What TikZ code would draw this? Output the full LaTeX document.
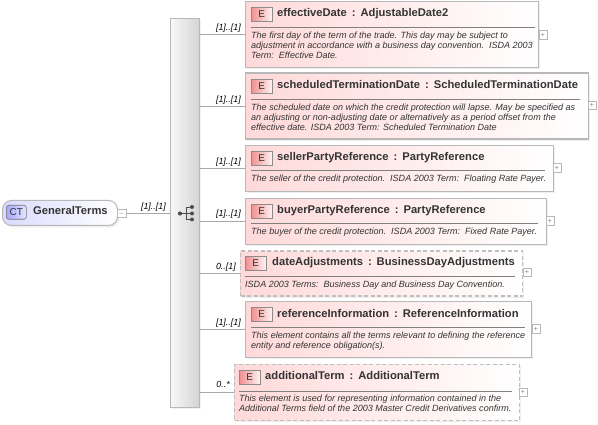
\documentclass[tikz,border=0pt]{standalone}
\usepackage{fontspec}
\setmainfont{Liberation Sans}
\usetikzlibrary{shadows}
\definecolor{edge}{HTML}{B8B8B8}
\definecolor{wire}{HTML}{A8A8A8}
\definecolor{pinkfill}{HTML}{FFD9D9}
\definecolor{ebox}{HTML}{F09090}
\definecolor{ctblue}{HTML}{DADAFF}
\definecolor{ink}{HTML}{333333}
\tikzset{
  elembox/.style={draw=edge, line width=1.2pt, left color=pinkfill, right color=white, anchor=north west, inner sep=0pt, drop shadow={shadow xshift=1.5pt, shadow yshift=-1.5pt, fill=black!12}},
  optbox/.style={elembox, draw=black!25, dash pattern=on 4pt off 2.5pt},
  eicon/.style={draw=black!45, line width=0.6pt, left color=ebox, right color=pinkfill!30, minimum width=21pt, minimum height=14pt, inner sep=0pt, anchor=north west, font=\fontsize{10}{10}\selectfont, text=ink},
  elemname/.style={anchor=base west, inner sep=0pt, font=\fontsize{11.2}{12}\selectfont\bfseries, text=ink},
  elemdoc/.style={anchor=north west, inner sep=0pt, align=left, font=\fontsize{9.03}{10}\selectfont\itshape, text=ink},
  card/.style={anchor=base east, inner sep=0pt, font=\fontsize{8.9}{9}\selectfont\itshape, text=black},
  togglebox/.style={draw=edge, fill=white, line width=0.5pt, minimum size=8.5pt, inner sep=0pt, font=\fontsize{7}{7}\selectfont, text=black!50},
  conn/.style={draw=wire, line width=0.7pt},
  rulel/.style={draw=black!50, line width=0.7pt}
}
\begin{document}
\begin{tikzpicture}[x=1pt,y=-1pt]
  \useasboundingbox (0,0) rectangle (598,425);

  % root type and sequence bar
  \node[draw=edge, line width=1pt, rounded corners=9pt, left color=ctblue, right color=white, anchor=north west, minimum width=115pt, minimum height=25pt, inner sep=0pt, drop shadow={shadow xshift=2pt, shadow yshift=-2pt, fill=black!12}] (rootBox) at (2,200) {};
  \node[draw=black!55, line width=0.6pt, rounded corners=2.5pt, left color=blue!35, right color=blue!10, minimum width=20pt, minimum height=14pt, inner sep=0pt, anchor=north west, font=\fontsize{10}{10}\selectfont, text=ink] (rootIcon) at (6,205) {CT};
  \node[elemname] (rootName) at (33,215) {GeneralTerms};
  \node[togglebox] (rootToggle) at (121.5,213.5) {$-$};
  \node[draw=edge, line width=1pt, left color=black!3, right color=black!17, anchor=north west, minimum width=29pt, minimum height=389pt, inner sep=0pt, drop shadow={shadow xshift=1pt, shadow yshift=-1pt, fill=black!10}] (seqBar) at (170,18) {};
  \draw[conn] (rootToggle) -- (rootToggle -| seqBar.west);
  \node[card] (rootCard) at (166,209.5) {[1]..[1]};

  % sequence icon
  \coordinate (S0) at (180,213.5);
  \coordinate (S1) at (192,207);
  \coordinate (S2) at (192,213.5);
  \coordinate (S3) at (192,219.5);
  \coordinate (S4) at (186,207);
  \coordinate (S5) at (186,219.5);
  \draw[black!70, line width=0.7pt] (S0) -- (S2);
  \draw[black!70, line width=0.7pt] (S1) -- (S4) -- (S5) -- (S3);
  \fill[black!70] (S0) circle (2.1pt);
  \fill[black!70] (S1) circle (2pt);
  \fill[black!70] (S2) circle (2pt);
  \fill[black!70] (S3) circle (2pt);

  % effectiveDate
  \node[elembox, minimum width=293pt, minimum height=66pt] (effBox) at (245,1) {};
  \node[eicon] (effIcon) at (251,7) {E};
  \node[elemname] (effName) at (277,16.5) {effectiveDate\ \,:\ \,AdjustableDate2};
  \draw[rulel] (251,27) -- (535,27);
  \node[elemdoc] (effDoc) at (251,32) {The first day of the term of the trade. This day may be subject to\\adjustment in accordance with a business day convention.\ \ ISDA 2003\\Term:\ \ Effective Date.};
  \node[togglebox] (effToggle) at (543,35) {+};
  \draw[conn] (effBox.west -| seqBar.east) -- (effBox.west);
  \node[card] (effCard) at (241,31) {[1]..[1]};

  % scheduledTerminationDate
  \node[elembox, minimum width=343pt, minimum height=66pt] (schedBox) at (245,72.5) {};
  \node[eicon] (schedIcon) at (251,79) {E};
  \node[elemname] (schedName) at (277,88.5) {scheduledTerminationDate\ \,:\ \,ScheduledTerminationDate};
  \draw[rulel] (251,99) -- (580,99);
  \node[elemdoc] (schedDoc) at (251,103.5) {The scheduled date on which the credit protection will lapse. May be specified as\\an adjusting or non-adjusting date or alternatively as a period offset from the\\effective date. ISDA 2003 Term: Scheduled Termination Date};
  \node[togglebox] (schedToggle) at (592,105.5) {+};
  \draw[conn] (schedBox.west -| seqBar.east) -- (schedBox.west);
  \node[card] (schedCard) at (241,103) {[1]..[1]};

  % sellerPartyReference
  \node[elembox, minimum width=308pt, minimum height=46pt] (sellerBox) at (245,145) {};
  \node[eicon] (sellerIcon) at (251,151) {E};
  \node[elemname] (sellerName) at (277,161) {sellerPartyReference\ \,:\ \,PartyReference};
  \draw[rulel] (251,170) -- (545,170);
  \node[elemdoc] (sellerDoc) at (251,175) {The seller of the credit protection.\ \ ISDA 2003 Term:\ \ Floating Rate Payer.};
  \node[togglebox] (sellerToggle) at (557,168) {+};
  \draw[conn] (sellerBox.west -| seqBar.east) -- (sellerBox.west);
  \node[card] (sellerCard) at (241,165) {[1]..[1]};

  % buyerPartyReference
  \node[elembox, minimum width=301pt, minimum height=46pt] (buyerBox) at (245,198) {};
  \node[eicon] (buyerIcon) at (251,204) {E};
  \node[elemname] (buyerName) at (277,214) {buyerPartyReference\ \,:\ \,PartyReference};
  \draw[rulel] (251,223) -- (538,223);
  \node[elemdoc] (buyerDoc) at (251,228) {The buyer of the credit protection.\ \ ISDA 2003 Term:\ \ Fixed Rate Payer.};
  \node[togglebox] (buyerToggle) at (550,221) {+};
  \draw[conn] (buyerBox.west -| seqBar.east) -- (buyerBox.west);
  \node[card] (buyerCard) at (241,217) {[1]..[1]};

  % dateAdjustments
  \node[optbox, minimum width=282pt, minimum height=45pt] (dateBox) at (240,250.5) {};
  \node[eicon] (dateIcon) at (245,256) {E};
  \node[elemname] (dateName) at (272,266) {dateAdjustments\ \,:\ \,BusinessDayAdjustments};
  \draw[rulel] (245,276) -- (515,276);
  \node[elemdoc] (dateDoc) at (245,280.5) {ISDA 2003 Terms:\ \ Business Day and Business Day Convention.};
  \node[togglebox] (dateToggle) at (527,272.5) {+};
  \draw[conn] (dateBox.west -| seqBar.east) -- (dateBox.west);
  \node[card] (dateCard) at (236,270) {0..[1]};

  % referenceInformation
  \node[elembox, minimum width=286pt, minimum height=56pt] (refBox) at (245,301) {};
  \node[eicon] (refIcon) at (251,307) {E};
  \node[elemname] (refName) at (277,317) {referenceInformation\ \,:\ \,ReferenceInformation};
  \draw[rulel] (251,327) -- (525,327);
  \node[elemdoc] (refDoc) at (251,331.5) {This element contains all the terms relevant to defining the reference\\entity and reference obligation(s).};
  \node[togglebox] (refToggle) at (536,329) {+};
  \draw[conn] (refBox.west -| seqBar.east) -- (refBox.west);
  \node[card] (refCard) at (241,326) {[1]..[1]};

  % additionalTerm
  \node[optbox, minimum width=285pt, minimum height=56pt] (addBox) at (234,364) {};
  \node[eicon] (addIcon) at (239,370) {E};
  \node[elemname] (addName) at (265,379.5) {additionalTerm\ \,:\ \,AdditionalTerm};
  \draw[rulel] (239,391) -- (512,391);
  \node[elemdoc] (addDoc) at (239,395) {This element is used for representing information contained in the\\Additional Terms field of the 2003 Master Credit Derivatives confirm.};
  \node[togglebox] (addToggle) at (523,392) {+};
  \draw[conn] (addBox.west -| seqBar.east) -- (addBox.west);
  \node[card] (addCard) at (230,388) {0..*};
\end{tikzpicture}
\end{document}
